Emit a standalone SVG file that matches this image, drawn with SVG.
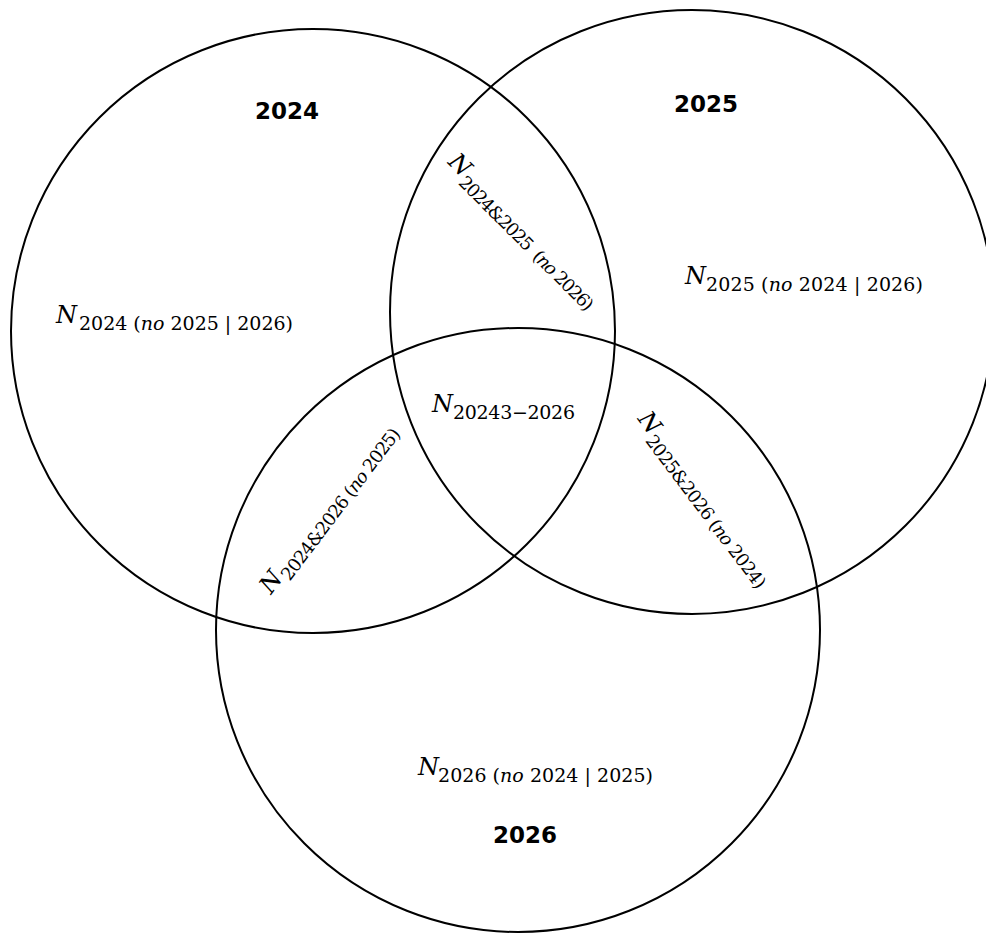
<svg xmlns="http://www.w3.org/2000/svg" width="986" height="934" viewBox="0 0 986 934">
<style>
.c{fill:none;stroke:#000;stroke-width:2}
.yr{font-family:"DejaVu Sans",Verdana,sans-serif;font-weight:bold;font-size:23px;fill:#000}
.N{font-family:"DejaVu Serif","Liberation Serif",serif;font-style:italic;font-size:24px;fill:#000}
.s{font-family:"DejaVu Serif","Liberation Serif",serif;font-size:19px;fill:#000}
.r{font-family:"DejaVu Serif","Liberation Serif",serif;font-size:18px;fill:#000}
.i{font-style:italic}
</style>
<rect width="986" height="934" fill="#fff"/>
<g id="circle-2024"><circle class="c" cx="313" cy="331" r="302"/><text class="yr" x="255" y="119">2024</text></g>
<g id="circle-2025"><circle class="c" cx="692" cy="312" r="302"/><text class="yr" x="674" y="112">2025</text></g>
<g id="circle-2026"><circle class="c" cx="518" cy="630" r="302"/><text class="yr" x="493" y="843">2026</text></g>
<g id="only-2024"><text class="N" x="56" y="323">N</text><text class="s" x="79" y="330" textLength="214">2024 (<tspan class="i">no</tspan> 2025 | 2026)</text></g>
<g id="only-2025"><text class="N" x="685" y="284">N</text><text class="s" x="706" y="291" textLength="217">2025 (<tspan class="i">no</tspan> 2024 | 2026)</text></g>
<g id="all-three"><text class="N" x="432" y="412">N</text><text class="s" x="453" y="419" textLength="122">20243−2026</text></g>
<g id="only-2026"><text class="N" x="418" y="775">N</text><text class="s" x="438" y="782" textLength="215">2026 (<tspan class="i">no</tspan> 2024 | 2025)</text></g>
<g id="pair-2024-2025" transform="translate(447,163) rotate(45)"><text class="N" x="0" y="0">N</text><text class="r" x="22" y="7" textLength="182" xml:space="preserve">2024&amp;2025  (<tspan class="i">no</tspan> 2026)</text></g>
<g id="pair-2024-2026" transform="translate(271,595) rotate(-53)"><text class="N" x="0" y="0">N</text><text class="r" x="22" y="7" textLength="185">2024&amp;2026 (<tspan class="i">no</tspan> 2025)</text></g>
<g id="pair-2025-2026" transform="translate(637,419) rotate(53)"><text class="N" x="0" y="0">N</text><text class="r" x="22" y="7" textLength="187">2025&amp;2026 (<tspan class="i">no</tspan> 2024)</text></g>
</svg>
